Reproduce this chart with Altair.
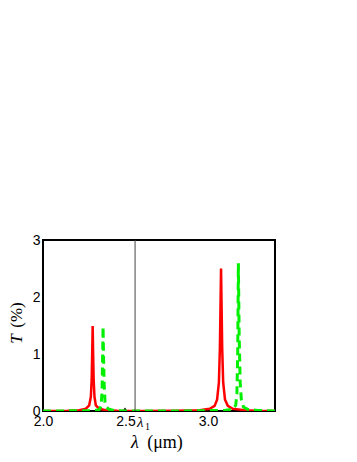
import altair as alt
import pandas as pd

# Red solid curve
red_x = [2.0, 2.15, 2.22, 2.26, 2.28, 2.29, 2.295, 2.298, 2.301, 2.304,
         2.307, 2.312, 2.32, 2.34, 2.38, 2.45, 2.6, 2.8, 2.95, 3.01,
         3.04, 3.055, 3.066, 3.072, 3.076, 3.079, 3.082, 3.086, 3.092, 3.103,
         3.12, 3.15, 3.22, 3.3, 3.41]
red_y = [0.0, 0.005, 0.015, 0.04, 0.1, 0.25, 0.55, 1.0, 1.49, 1.0,
         0.55, 0.25, 0.1, 0.04, 0.015, 0.005, 0.0, 0.005, 0.015, 0.04,
         0.09, 0.2, 0.5, 1.1, 1.9, 2.5, 1.9, 1.1, 0.5, 0.2,
         0.09, 0.04, 0.015, 0.005, 0.0]

# Green dashed curve
green_x = [2.0, 2.3, 2.34, 2.352, 2.358, 2.361, 2.364, 2.367, 2.371, 2.376,
           2.385, 2.4, 2.43, 2.5, 2.8, 3.1, 3.15, 3.168, 3.175, 3.18,
           3.184, 3.189, 3.195, 3.202, 3.215, 3.24, 3.3, 3.41]
green_y = [0.0, 0.005, 0.02, 0.08, 0.35, 0.9, 1.48, 0.95, 0.45, 0.15,
           0.07, 0.03, 0.01, 0.0, 0.0, 0.01, 0.03, 0.1, 0.3, 1.0,
           2.59, 1.3, 0.5, 0.2, 0.07, 0.03, 0.01, 0.0]

# Black curve (mostly hidden at baseline)
black_x = [2.0, 2.49, 2.497, 2.505, 2.99, 3.0, 3.01, 3.41]
black_y = [0.0, 0.0, 0.03, 0.0, 0.0, 0.03, 0.0, 0.0]

lambda1 = 2.558
x_ticks = [2.0, 2.5, 3.0]
y_ticks = [0, 1, 2, 3]
x_domain = [2.0, 3.406]
y_domain = [0, 3]

red_df = pd.DataFrame({"lam": red_x, "T": red_y})
green_df = pd.DataFrame({"lam": green_x, "T": green_y})
black_df = pd.DataFrame({"lam": black_x, "T": black_y})

xs = alt.Scale(domain=x_domain, nice=False, zero=False)
ys = alt.Scale(domain=y_domain, nice=False)

x_axis = alt.Axis(values=x_ticks, format=".1f", title=None, domain=False, ticks=False,
                  grid=False, labelFont="Liberation Sans", labelFontSize=14,
                  labelColor="black", labelPadding=3, labelFlush=False)
y_axis = alt.Axis(values=y_ticks, format="d", title=None, domain=False, ticks=False,
                  grid=False, labelFont="Liberation Sans", labelFontSize=14,
                  labelColor="black", labelPadding=3)

black = alt.Chart(black_df).mark_line(color="black", strokeWidth=2, clip=True).encode(
    x=alt.X("lam:Q", scale=xs, axis=x_axis),
    y=alt.Y("T:Q", scale=ys, axis=y_axis),
)
red = alt.Chart(red_df).mark_line(color="#ff0000", strokeWidth=2.5, clip=True).encode(
    x="lam:Q", y="T:Q")
green = alt.Chart(green_df).mark_line(color="#00f000", strokeWidth=3, strokeDash=[8, 5],
                                      clip=True).encode(x="lam:Q", y="T:Q")

vline = alt.Chart(pd.DataFrame({"lam": [lambda1]})).mark_rule(color="#444444", strokeWidth=1).encode(
    x="lam:Q")

lam_lbl = alt.Chart(pd.DataFrame({"lam": [lambda1]})).mark_text(
    text="λ", font="Liberation Serif", fontStyle="italic", fontSize=15, align="left",
    baseline="middle", dx=2, clip=False, color="black").encode(
    x="lam:Q", y=alt.value(182))
lam_sub = alt.Chart(pd.DataFrame({"lam": [lambda1]})).mark_text(
    text="1", font="Liberation Serif", fontSize=10, align="left",
    baseline="middle", dx=10, clip=False, color="black").encode(
    x="lam:Q", y=alt.value(187))

xt1 = alt.Chart(pd.DataFrame({"a": [0]})).mark_text(
    text="λ", font="Liberation Serif", fontStyle="italic", fontSize=18, align="center",
    baseline="middle", color="black").encode(x=alt.value(92), y=alt.value(203))
xt2 = alt.Chart(pd.DataFrame({"a": [0]})).mark_text(
    text="(μm)", font="Liberation Serif", fontSize=18, align="center",
    baseline="middle", color="black").encode(x=alt.value(122), y=alt.value(203))

yt1 = alt.Chart(pd.DataFrame({"a": [0]})).mark_text(
    text="T", font="Liberation Serif", fontStyle="italic", fontSize=17, align="center",
    baseline="middle", angle=270, color="black").encode(x=alt.value(-26), y=alt.value(99))
yt2 = alt.Chart(pd.DataFrame({"a": [0]})).mark_text(
    text="(%)", font="Liberation Serif", fontSize=17, align="center",
    baseline="middle", angle=270, color="black").encode(x=alt.value(-26), y=alt.value(75))

chart = alt.layer(black, red, green, vline, lam_lbl, lam_sub, xt1, xt2, yt1, yt2).properties(
    width=232, height=171,
    background="white",
    autosize=alt.AutoSizeParams(type="none"),
    padding={"left": 35, "top": 232, "right": 40, "bottom": 50},
).configure_view(stroke="black", strokeWidth=2)

chart.save("out.html", embed_options={"renderer": "svg", "actions": False})
